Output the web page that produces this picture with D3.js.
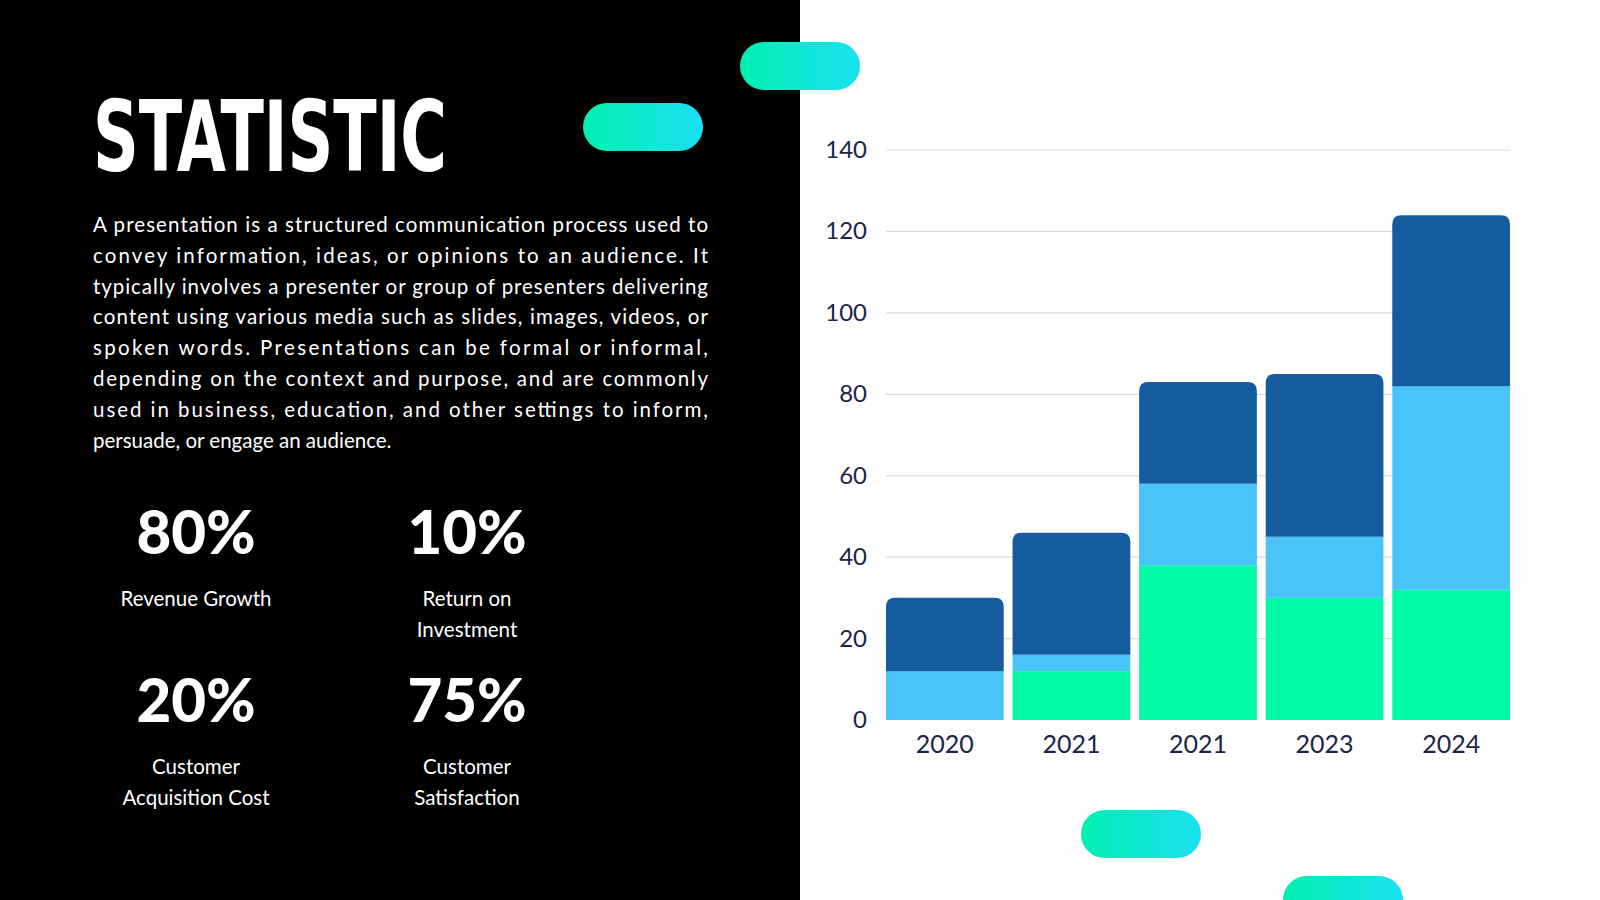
<!DOCTYPE html>
<html><head><meta charset="utf-8">
<script src="https://cdn.jsdelivr.net/npm/d3@7"></script>
<style>html,body{margin:0;padding:0;background:#fff;overflow:hidden}</style>
</head><body><svg id="c" width="1600" height="900"></svg>
<script>
const categories = ["2020","2021","2021","2023","2024"];
const greenValues = [0,12,38,30,32];
const lightValues = [12,4,20,15,50];
const darkValues = [18,30,25,40,42];
const yTicks = [0,20,40,60,80,100,120,140];
const paragraph = [
"A presentation is a structured communication process used to",
"convey information, ideas, or opinions to an audience. It",
"typically involves a presenter or group of presenters delivering",
"content using various media such as slides, images, videos, or",
"spoken words. Presentations can be formal or informal,",
"depending on the context and purpose, and are commonly",
"used in business, education, and other settings to inform,",
"persuade, or engage an audience."];
const stats = [["80%",["Revenue Growth"]],["10%",["Return on","Investment"]],["20%",["Customer","Acquisition Cost"]],["75%",["Customer","Satisfaction"]]];

const svg = d3.select("#c");
const defs = svg.append("defs");
const g = defs.append("linearGradient").attr("id","pg");
g.append("stop").attr("offset","0%").attr("stop-color","#00f0b0");
g.append("stop").attr("offset","100%").attr("stop-color","#1ae0f2");

svg.append("rect").attr("width",800).attr("height",900).attr("fill","#000");

svg.append("text").attr("x",93).attr("y",171).attr("textLength",354).attr("lengthAdjust","spacingAndGlyphs")
  .attr("font-family","Liberation Sans Narrow, DejaVu Sans Condensed").attr("font-weight","bold")
  .attr("font-size",98).attr("fill","#fff").text("STATISTIC");

paragraph.forEach((l,i)=>{
  const t = svg.append("text").attr("x",93).attr("y",232+i*30.8).attr("font-family","Lato").attr("font-size",20.5).attr("fill","#fff").text(l);
  if(i<paragraph.length-1) t.attr("textLength",615).attr("lengthAdjust","spacing");
});

const sx=[196,467], sy=[554,722];
stats.forEach((s,i)=>{
  const x=sx[i%2], y=sy[Math.floor(i/2)];
  svg.append("text").attr("x",x).attr("y",y).attr("text-anchor","middle").attr("font-family","Lato").attr("font-weight","900").attr("font-size",60).attr("fill","#fff").text(s[0]);
  s[1].forEach((l,j)=>svg.append("text").attr("x",x).attr("y",y+52+j*30.8).attr("text-anchor","middle").attr("font-family","Lato").attr("font-size",20.5).attr("fill","#fff").text(l));
});

[[740,42],[583,103],[1081,810],[1283,876]].forEach(p=>svg.append("rect").attr("x",p[0]).attr("y",p[1]).attr("width",120).attr("height",48).attr("rx",24).attr("fill","url(#pg)"));

const x = d3.scaleBand().domain(d3.range(categories.length)).range([886,1510]).paddingInner(0.07).paddingOuter(0);
const y = d3.scaleLinear().domain([0,140]).range([720,150]);
const ax = svg.append("g");
yTicks.forEach(t=>{
  if(t>0) ax.append("line").attr("x1",886).attr("x2",1510).attr("y1",y(t)).attr("y2",y(t)).attr("stroke","#dcdcdc").attr("stroke-width",1.2);
  ax.append("text").attr("x",867).attr("y",y(t)+8).attr("text-anchor","end").attr("font-family","Lato").attr("font-size",24).attr("fill","#1a2547").text(t);
});
const series=[[greenValues,"#00fba8"],[lightValues,"#48c4f8"],[darkValues,"#155c9e"]];
categories.forEach((c,i)=>{
  let base=0;
  const total=greenValues[i]+lightValues[i]+darkValues[i];
  series.forEach(([vals,col])=>{
    const v=vals[i]; if(v<=0) return;
    const top=base+v, x0=x(i), w=x.bandwidth(), y0=y(base), y1=y(top);
    if(top===total){
      const r=9;
      svg.append("path").attr("fill",col).attr("d",`M${x0},${y0}V${y1+r}Q${x0},${y1} ${x0+r},${y1}H${x0+w-r}Q${x0+w},${y1} ${x0+w},${y1+r}V${y0}Z`);
    } else svg.append("rect").attr("x",x0).attr("y",y1).attr("width",w).attr("height",y0-y1).attr("fill",col);
    base=top;
  });
  svg.append("text").attr("x",x(i)+x.bandwidth()/2).attr("y",753).attr("text-anchor","middle").attr("font-family","Lato").attr("font-size",25).attr("fill","#1a2547").text(c);
});
</script></body></html>
